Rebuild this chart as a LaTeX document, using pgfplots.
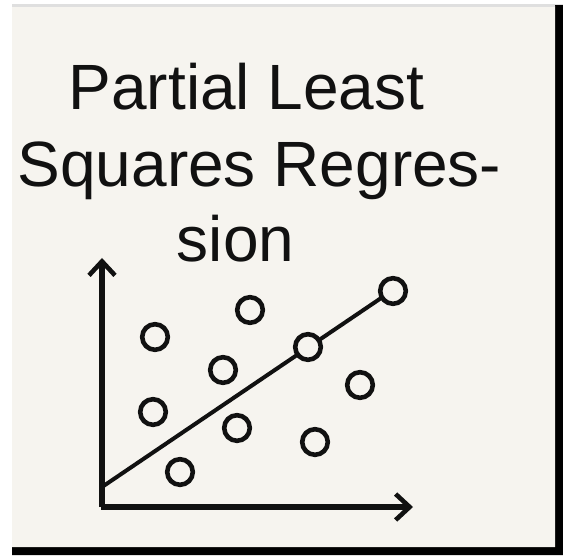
\documentclass[border=0pt]{standalone}
\usepackage{fontspec}
\setmainfont{Liberation Sans}
\usepackage{pgfplots}
\pgfplotsset{compat=1.18}
\usetikzlibrary{arrows.meta}

\definecolor{panel}{RGB}{246,244,239}
\definecolor{ink}{RGB}{17,17,17}

\begin{document}
\begin{tikzpicture}
\begin{axis}[
    scale only axis,
    width=281.5pt, height=277.5pt,
    xmin=0, xmax=563, ymin=0, ymax=555,
    hide axis,
    clip=false,
]
% page and card with its dark shadow edge
\addplot[fill=white, draw=none] coordinates {(0,0) (563,0) (563,555) (0,555) (0,0)};
\addplot[fill=black, draw=none] coordinates {(12,0) (563,0) (563,550) (12,550) (12,0)};
\addplot[fill=panel, draw=none] coordinates {(12,8) (555,8) (555,549) (12,549) (12,8)};
\addplot[gray!25, line width=0.6pt] coordinates {(12,549) (555,549)};

% axes with open arrow heads
\addplot[ink, line width=2.6pt, -{Straight Barb[length=7pt, width=13pt, line width=2.3pt]}]
    coordinates {(102,48) (102,297)};
\addplot[ink, line width=2.6pt, -{Straight Barb[length=7pt, width=13pt, line width=2.3pt]}]
    coordinates {(100.7,48) (413,48)};

% fitted line
\addplot[ink, line width=2pt] coordinates {(102,68) (393,265)};

% observations
\addplot[only marks, mark=*, mark size=6.4pt,
    mark options={fill=panel, draw=ink, line width=2.3pt}] coordinates {
    (155,218) (250,245) (308,208) (393,264) (223,185)
    (360,170) (153,143) (237,127) (315,113) (180,83)
};

% title
\node[anchor=base, font=\fontsize{32}{38}\selectfont, text=ink] at (axis cs:246.5,445) {Partial Least};
\node[anchor=base, font=\fontsize{32}{38}\selectfont, text=ink] at (axis cs:259.5,368) {Squares Regres-};
\node[anchor=base, font=\fontsize{32}{38}\selectfont, text=ink] at (axis cs:235.5,293) {sion};
\end{axis}
\end{tikzpicture}
\end{document}
